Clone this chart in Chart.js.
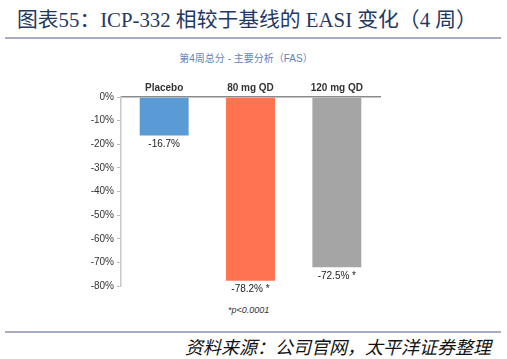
<!DOCTYPE html>
<html lang="zh">
<head>
  <meta charset="UTF-8">
  <title>ICP-332 EASI</title>
  <script src="https://cdn.jsdelivr.net/npm/chart.js"></script>
  <style>
    body {
      margin: 0;
      width: 507px;
      height: 359px;
      background: #ffffff;
      position: relative;
      overflow: hidden;
      font-family: "Liberation Sans", Arial, sans-serif;
    }
    #title {
      position: absolute;
      left: 17px;
      top: 3px;
      font-family: "Liberation Serif", "Noto Sans CJK SC", serif;
      font-size: 20.8px;
      color: #1f3864;
      white-space: nowrap;
    }
    .rule {
      position: absolute;
      left: 5px;
      width: 496px;
      height: 2px;
      background: #a9a9c8;
    }
    #subtitle {
      position: absolute;
      left: 0;
      width: 492px;
      top: 50px;
      text-align: center;
      font-size: 10px;
      color: #5f82bb;
      font-family: "Liberation Sans", "Noto Sans CJK SC", sans-serif;
    }
    #note {
      position: absolute;
      left: 228px;
      top: 305px;
      font-size: 9px;
      font-style: italic;
      color: #333;
    }
    #source {
      position: absolute;
      right: 16px;
      top: 333px;
      font-size: 18px;
      font-style: italic;
      color: #111;
      font-family: "Noto Sans CJK SC", sans-serif;
      white-space: nowrap;
    }
    #wrap {
      position: absolute;
      left: 0;
      top: 70px;
      width: 420px;
      height: 235px;
    }
  </style>
</head>
<body>
  <div id="title">图表55：ICP-332 相较于基线的 EASI 变化（4 周）</div>
  <div class="rule" style="top: 37px;"></div>
  <div id="subtitle">第4周总分 - 主要分析（FAS）</div>
  <div id="wrap"><canvas id="c"></canvas></div>
  <div id="note">*p&lt;0.0001</div>
  <div class="rule" style="top: 331px;"></div>
  <div id="source">资料来源：公司官网，太平洋证券整理</div>

  <script>
    const categories = ["Placebo", "80 mg QD", "120 mg QD"];
    const changes = [-16.7, -78.2, -72.5];
    const marks = ["", " *", " *"];
    const barColors = ["#5b9bd5", "#ff7350", "#a5a5a5"];
    const yTicks = [0, -10, -20, -30, -40, -50, -60, -70, -80];

    // value labels under each bar
    const valueLabels = {
      id: "valueLabels",
      afterDatasetsDraw(chart) {
        const ctx = chart.ctx;
        const meta = chart.getDatasetMeta(0);
        ctx.save();
        ctx.font = "10px 'Liberation Sans', Arial, sans-serif";
        ctx.fillStyle = "#222";
        ctx.textAlign = "center";
        ctx.textBaseline = "middle";
        meta.data.forEach((bar, i) => {
          ctx.fillText(changes[i].toFixed(1) + "%" + marks[i], bar.x, bar.y + 8);
        });
        ctx.restore();
      }
    };

    new Chart(document.getElementById("c"), {
      type: "bar",
      data: {
        labels: categories,
        datasets: [{
          data: changes,
          backgroundColor: barColors,
          borderColor: "#ffffff",
          borderWidth: { left: 1, right: 1, bottom: 1, top: 0 },
          borderSkipped: false,
          categoryPercentage: 1,
          barPercentage: 0.59
        }]
      },
      options: {
        responsive: true,
        maintainAspectRatio: false,
        animation: false,
        layout: { padding: { top: 0, right: 40, bottom: 19, left: 0 } },
        plugins: {
          legend: { display: false },
          tooltip: { enabled: false }
        },
        scales: {
          x: {
            position: "top",
            grid: { display: false, drawTicks: false },
            border: { color: "#8a8a8a", width: 1.5 },
            ticks: {
              color: "#333",
              padding: 3,
              font: { size: 10, weight: "bold", family: "'Liberation Sans', Arial, sans-serif" }
            },
            afterFit: s => { s.height = 27; }
          },
          y: {
            min: -80,
            max: 0,
            afterBuildTicks: s => { s.ticks = yTicks.map(v => ({ value: v })); },
            grid: { drawOnChartArea: false, drawTicks: true, tickLength: 4, color: "#bdbdbd" },
            border: { color: "#c8c8c8", width: 1.5 },
            ticks: {
              color: "#333",
              padding: 3,
              font: { size: 10, family: "'Liberation Sans', Arial, sans-serif" },
              callback: v => v + "%"
            },
            afterFit: s => { s.width = 121; }
          }
        }
      },
      plugins: [valueLabels]
    });
  </script>
</body>
</html>
